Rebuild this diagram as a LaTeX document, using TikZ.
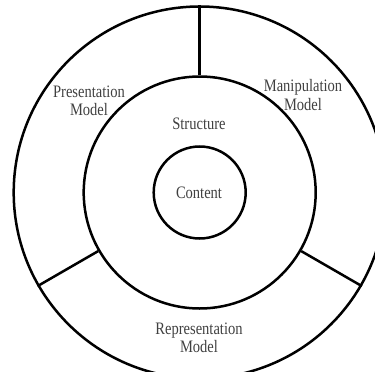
\documentclass[tikz,border=0pt]{standalone}
\usepackage{fontspec}
\setmainfont[FakeStretch=0.83]{Liberation Serif}
\begin{document}
\begin{tikzpicture}[x=1pt,y=-1pt,
  ring/.style={draw=black,line width=2.5pt},
  lbl/.style={text=black!75,font=\fontsize{17.5}{18.3}\selectfont,align=center,inner sep=0pt}]
\useasboundingbox (0,0) rectangle (375,372);
\clip (0,0) rectangle (375,372);
\coordinate (c) at (199.7,192.5);
\node[ring,circle,minimum size=372pt,inner sep=0pt] (outer) at (c) {};
\node[ring,circle,minimum size=232pt,inner sep=0pt] (mid) at (c) {};
\node[ring,circle,minimum size=92pt,inner sep=0pt] (inner) at (c) {};
\draw[ring] (mid.90) -- (outer.90);
\draw[ring] (mid.210) -- (outer.210);
\draw[ring] (mid.330) -- (outer.330);
\node[lbl] (pres) at (89,101) {Presentation\\Model};
\node[lbl] (manip) at (303,95) {Manipulation\\Model};
\node[lbl] (struct) at (199,124) {Structure};
\node[lbl] (cont) at (199,192.5) {Content};
\node[lbl] (repr) at (199,338) {Representation\\Model};
\end{tikzpicture}
\end{document}
